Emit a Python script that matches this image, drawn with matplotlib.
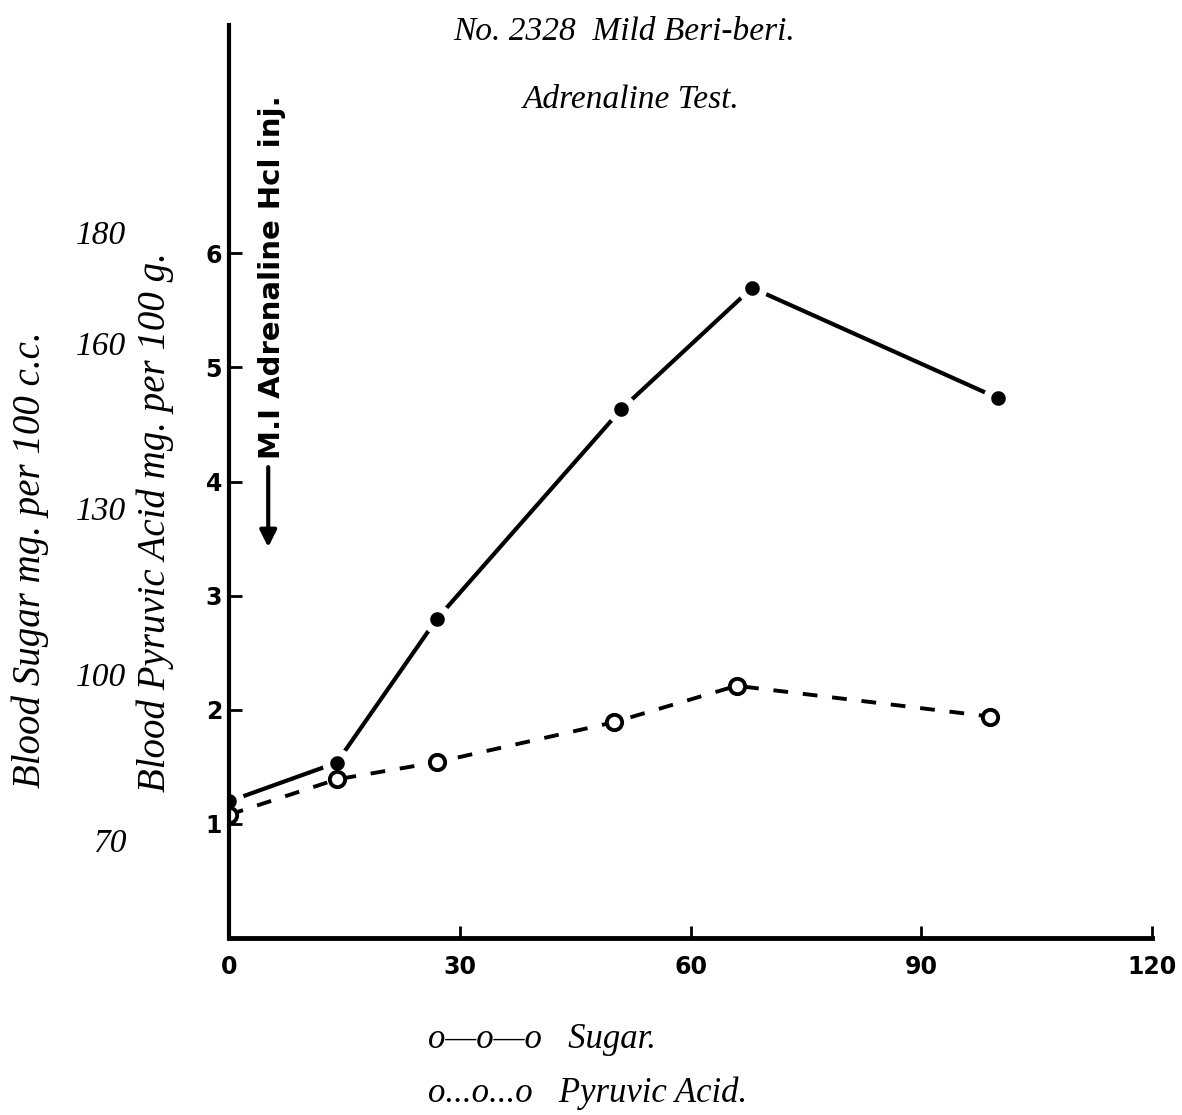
import matplotlib.pyplot as plt

# data
minutes_sugar = [0, 14, 27, 51, 68, 100]
sugar = [77, 84, 110, 148, 170, 150]          # mg per 100 c.c.
minutes_pyruvic = [0, 14, 27, 50, 66, 99]
pyruvic = [1.08, 1.39, 1.54, 1.89, 2.21, 1.94]  # mg per 100 g.

x_ticks = [0, 30, 60, 90, 120]
pyruvic_ticks = [1, 2, 3, 4, 5, 6]
sugar_ticks = [70, 100, 130, 160, 180]

serif = ['Liberation Serif', 'DejaVu Serif']
hand = ['DejaVu Sans']

W, H = 1182, 1115
fig = plt.figure(figsize=(W / 100, H / 100), dpi=100)
fig.patch.set_facecolor('white')

# main axes (pyruvic acid scale)
ax = fig.add_axes([229 / W, 1 - 938 / H, (1152 - 229) / W, (938 - 25) / H])
ax.set_xlim(0, 120)
ax.set_ylim(0, 8.0)

# second scale for blood sugar, labels sit further out on the left
ax2 = ax.twinx()
ax2.set_ylim(52.25, 217.6)
ax2.yaxis.tick_left()
for s in ax2.spines.values():
    s.set_visible(False)
ax2.set_yticks(sugar_ticks)
ax2.set_yticklabels([str(v) for v in sugar_ticks], family=serif, style='italic', fontsize=24)
ax2.tick_params(axis='y', length=0, pad=74)
ax2.set_xticks([])

# pyruvic line drawn above sugar
ax.set_zorder(ax2.get_zorder() + 1)
ax.patch.set_visible(False)

ax2.plot(minutes_sugar, sugar, color='black', lw=3, marker='o', ms=16,
         mfc='black', mec='white', mew=5.5, solid_capstyle='round')

line, = ax.plot(minutes_pyruvic, pyruvic, color='black', lw=2.8, marker='o', ms=11,
                mfc='white', mec='black', mew=2.8)
line.set_dashes([3.8, 3.8])

for side in ['top', 'right']:
    ax.spines[side].set_visible(False)
ax.spines['left'].set_linewidth(3)
ax.spines['bottom'].set_linewidth(3.5)

ax.set_xticks(x_ticks)
ax.set_xticklabels([str(v) for v in x_ticks], family=hand, fontweight='bold', fontsize=17)
ax.set_yticks(pyruvic_ticks)
ax.set_yticklabels([str(v) for v in pyruvic_ticks], family=hand, fontweight='bold', fontsize=17)
ax.tick_params(axis='both', direction='in', length=9, width=2)
ax.tick_params(axis='x', pad=12)
ax.tick_params(axis='y', pad=5)

# axis titles
fig.text(30 / W, 1 - 560 / H, 'Blood Sugar mg. per 100 c.c.', rotation=90,
         ha='center', va='center', family=serif, style='italic', fontsize=28)
fig.text(155 / W, 1 - 522 / H, 'Blood Pyruvic Acid mg. per 100 g.', rotation=90,
         ha='center', va='center', family=serif, style='italic', fontsize=28)

# injection marker
ax.annotate('', xy=(5.1, 3.4), xytext=(5.1, 4.15),
            arrowprops=dict(arrowstyle='-|>', lw=3, color='black', mutation_scale=25))
ax.text(5.6, 4.2, 'M.I Adrenaline Hcl inj.', rotation=90, ha='center', va='bottom',
        family=hand, fontweight='bold', fontsize=21)

# titles
fig.text(624 / W, 1 - 32 / H, 'No. 2328  Mild Beri-beri.', ha='center', va='center',
         family=serif, style='italic', fontsize=24)
fig.text(631 / W, 1 - 100 / H, 'Adrenaline Test.', ha='center', va='center',
         family=serif, style='italic', fontsize=24)

# key
fig.text(428 / W, 1 - 1040 / H, 'o—o—o   Sugar.', ha='left', va='center',
         family=serif, style='italic', fontsize=25)
fig.text(428 / W, 1 - 1093 / H, 'o...o...o   Pyruvic Acid.', ha='left', va='center',
         family=serif, style='italic', fontsize=25)

fig.savefig('out.png', dpi=100, facecolor='white')
